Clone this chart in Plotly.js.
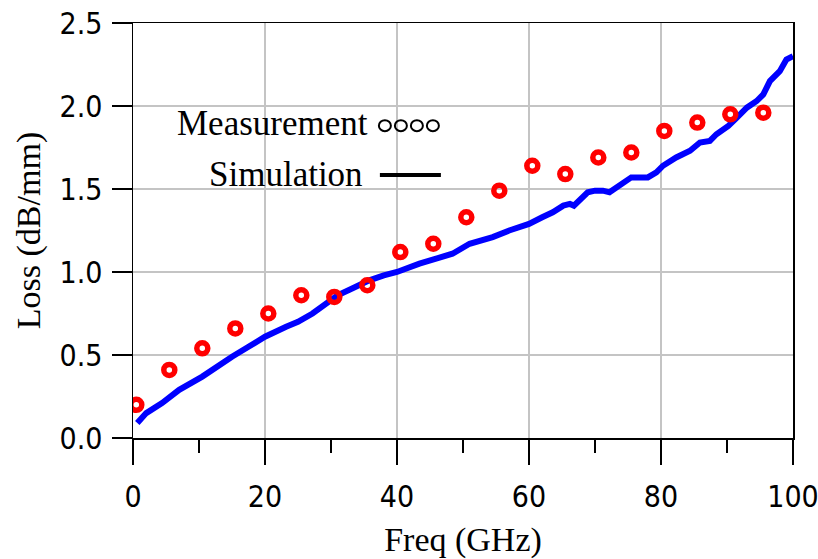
<!DOCTYPE html>
<html>
<head>
<meta charset="utf-8">
<script src="https://cdn.plot.ly/plotly-3.0.1.min.js"></script>
<style>html,body{margin:0;padding:0;background:#fff;}#chart{width:818px;height:559px;}</style>
</head>
<body>
<div id="chart"></div>
<script>
// Measurement points
const measFreq = [0.5, 5.5, 10.5, 15.5, 20.5, 25.5, 30.5, 35.5, 40.5, 45.5, 50.5, 55.5, 60.5, 65.5, 70.5, 75.5, 80.5, 85.5, 90.5, 95.5];
const measLoss = [0.20, 0.41, 0.54, 0.66, 0.75, 0.86, 0.85, 0.92, 1.12, 1.17, 1.33, 1.49, 1.64, 1.59, 1.69, 1.72, 1.85, 1.90, 1.95, 1.96];

// Simulation curve
const simFreq = [0.65, 2, 4.4, 7, 10.5, 13, 15, 17.5, 20, 23.2, 25, 27.2, 28.5, 30, 31, 33.2, 35.8, 38, 40, 43.4, 46, 48.4, 51, 52, 54.5, 57, 60, 62, 63.6, 65.2, 66.2, 66.8, 67.7, 68.9, 70, 71.2, 72.2, 73, 74.2, 75.5, 76.5, 78, 79.3, 80.3, 82.3, 84.4, 85.9, 87.4, 88.4, 90.2, 91.5, 93, 94.5, 95.5, 96.5, 98, 99, 100];
const simLoss = [0.09, 0.15, 0.21, 0.29, 0.37, 0.44, 0.49, 0.55, 0.61, 0.67, 0.70, 0.75, 0.79, 0.84, 0.86, 0.90, 0.95, 0.98, 1.00, 1.05, 1.08, 1.11, 1.17, 1.18, 1.21, 1.25, 1.29, 1.33, 1.36, 1.40, 1.41, 1.40, 1.43, 1.48, 1.49, 1.49, 1.48, 1.50, 1.53, 1.57, 1.57, 1.57, 1.60, 1.64, 1.69, 1.73, 1.78, 1.79, 1.83, 1.88, 1.93, 1.99, 2.03, 2.07, 2.15, 2.21, 2.28, 2.30];

const xTickVals = [0, 20, 40, 60, 80, 100];
const xTickText = ['0', '20', '40', '60', '80', '100'];
const xMinorVals = [10, 30, 50, 70, 90];
const yTickVals = [0, 0.5, 1.0, 1.5, 2.0, 2.5];
const yTickText = ['0.0', '0.5', '1.0', '1.5', '2.0', '2.5'];

const tickFont = {family: 'Liberation Sans Narrow, DejaVu Sans Condensed, Arial Narrow, sans-serif', size: 30, color: '#000'};
const serif = 'Liberation Serif, Times New Roman, serif';

const traces = [
  {
    x: simFreq, y: simLoss, type: 'scatter', mode: 'lines',
    line: {color: '#0000ff', width: 6},
    showlegend: false, hoverinfo: 'skip'
  },
  {
    x: measFreq, y: measLoss, type: 'scatter', mode: 'markers',
    marker: {symbol: 'circle-open', size: 11, color: '#ff0000', line: {color: '#ff0000', width: 5.5}},
    showlegend: false, hoverinfo: 'skip'
  }
];

// legend decoration: four small open circles and a line sample
const shapes = [];
for (let i = 0; i < 4; i++) {
  shapes.push({
    type: 'circle', xref: 'paper', yref: 'paper',
    xsizemode: 'pixel', ysizemode: 'pixel',
    xanchor: 0.3665, yanchor: 0.7525,
    x0: i * 16 + 10 - 6, x1: i * 16 + 10 + 6, y0: -5.5, y1: 5.5,
    line: {color: '#000', width: 2}
  });
}
shapes.push({
  type: 'line', xref: 'paper', yref: 'paper',
  x0: 0.3665 + 5 / 660, x1: 0.3665 + 66 / 660, y0: 0.634, y1: 0.634,
  line: {color: '#000', width: 4}
});

const layout = {
  width: 818, height: 559,
  margin: {l: 133, r: 25, t: 23, b: 121, pad: 0},
  paper_bgcolor: '#fff', plot_bgcolor: '#fff',
  showlegend: false,
  xaxis: {
    range: [0, 100],
    tickmode: 'array', tickvals: xTickVals, ticktext: xTickText,
    ticks: 'outside', ticklen: 25, tickwidth: 1.5, tickcolor: '#000',
    ticklabelstandoff: 6, ticklabeloverflow: 'allow',
    minor: {tickmode: 'array', tickvals: xMinorVals, ticks: 'outside', ticklen: 13, tickwidth: 1.5, tickcolor: '#000', showgrid: false},
    showgrid: true, gridcolor: '#c4c4c4', gridwidth: 1.2,
    showline: true, linecolor: '#000', linewidth: 1.5, mirror: true,
    zeroline: false,
    tickfont: tickFont,
    title: {text: 'Freq (GHz)', font: {family: serif, size: 34, color: '#000'}, standoff: 20}
  },
  yaxis: {
    range: [0, 2.5],
    tickmode: 'array', tickvals: yTickVals, ticktext: yTickText,
    ticks: 'outside', ticklen: 20, tickwidth: 1.5, tickcolor: '#000',
    ticklabelstandoff: 3, ticklabeloverflow: 'allow',
    showgrid: true, gridcolor: '#c4c4c4', gridwidth: 1.2,
    showline: true, linecolor: '#000', linewidth: 1.5, mirror: true,
    zeroline: false,
    tickfont: tickFont,
    title: {text: 'Loss (dB/mm)', font: {family: serif, size: 34, color: '#000'}, standoff: 8}
  },
  shapes: shapes,
  annotations: [
    {text: 'Measurement', xref: 'paper', yref: 'paper', x: 0.3595, y: 0.757, xanchor: 'right', yanchor: 'middle', showarrow: false,
     font: {family: serif, size: 35, color: '#000'}},
    {text: 'Simulation', xref: 'paper', yref: 'paper', x: 0.352, y: 0.634, xanchor: 'right', yanchor: 'middle', showarrow: false,
     font: {family: serif, size: 35, color: '#000'}}
  ]
};

Plotly.newPlot('chart', traces, layout, {staticPlot: true, displayModeBar: false});
</script>
</body>
</html>
